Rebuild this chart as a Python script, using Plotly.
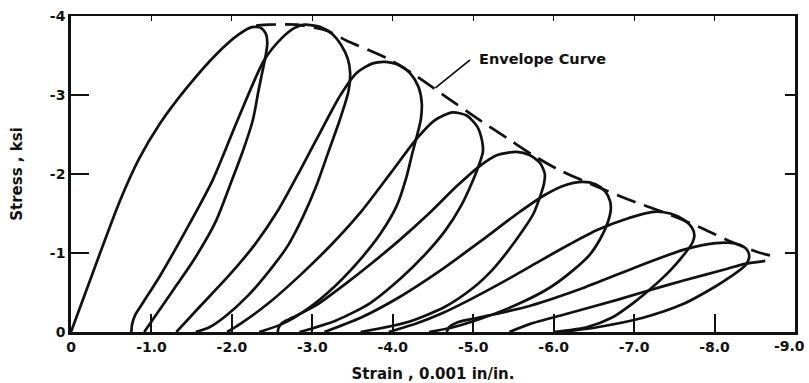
import plotly.graph_objects as go

# ---- data (strain in 0.001 in/in, stress in ksi) ----
loop1_x = [0, -0.30, -0.60, -0.85, -1.10, -1.43, -1.81, -2.09, -2.25, -2.36, -2.42, -2.44, -2.42,
           -2.38, -2.33, -2.26, -2.14, -2.00, -1.80, -1.55, -1.25, -0.91]
loop1_y = [0, -0.83, -1.64, -2.20, -2.63, -3.08, -3.52, -3.77, -3.86, -3.85, -3.78, -3.65, -3.50,
           -3.30, -3.05, -2.68, -2.30, -1.92, -1.40, -0.95, -0.50, 0]

loop2_x = [-0.75, -0.76, -0.80, -0.90, -1.10, -1.43, -1.76, -2.07, -2.40, -2.62, -2.78, -2.90, -3.10,
           -3.25, -3.36, -3.44, -3.47, -3.45, -3.34, -3.20, -3.05, -2.88, -2.70, -2.47, -2.20,
           -1.92, -1.72, -1.55]
loop2_y = [0, -0.10, -0.22, -0.38, -0.70, -1.29, -1.92, -2.68, -3.44, -3.72, -3.85, -3.89, -3.86,
           -3.77, -3.63, -3.46, -3.28, -3.05, -2.68, -2.28, -1.85, -1.45, -1.10, -0.78, -0.46,
           -0.20, -0.06, 0]

loop3_x = [-1.31, -1.60, -1.95, -2.28, -2.58, -2.85, -3.11, -3.35, -3.55, -3.75, -3.90, -4.08,
           -4.22, -4.32, -4.36, -4.35, -4.31, -4.24, -4.17, -4.05, -3.85, -3.58, -3.28, -2.95,
           -2.62, -2.34]
loop3_y = [0, -0.32, -0.70, -1.10, -1.55, -2.05, -2.55, -3.00, -3.28, -3.40, -3.42, -3.38,
           -3.27, -3.10, -2.90, -2.70, -2.52, -2.25, -1.96, -1.60, -1.25, -0.90, -0.58, -0.30,
           -0.10, 0]

loop4_x = [-1.94, -2.10, -2.45, -2.85, -3.25, -3.62, -3.98, -4.30, -4.52, -4.74, -4.92, -5.05,
           -5.11, -5.12, -5.08, -4.98, -4.85, -4.65, -4.40, -4.10, -3.71, -3.28, -2.84]
loop4_y = [0, -0.10, -0.36, -0.72, -1.12, -1.54, -2.02, -2.45, -2.68, -2.78, -2.74, -2.60,
           -2.42, -2.28, -2.14, -1.88, -1.60, -1.28, -0.98, -0.68, -0.36, -0.14, 0]

loop5_x = [-2.57, -2.58, -2.63, -2.75, -3.05, -3.40, -3.75, -4.08, -4.45, -4.80, -5.08, -5.30,
           -5.54, -5.70, -5.83, -5.89, -5.88, -5.83, -5.75, -5.62, -5.45, -5.25, -5.00, -4.65,
           -4.20, -3.60]
loop5_y = [0, -0.05, -0.12, -0.18, -0.34, -0.60, -0.88, -1.16, -1.50, -1.85, -2.10, -2.24,
           -2.28, -2.24, -2.14, -2.00, -1.88, -1.71, -1.50, -1.29, -1.05, -0.80, -0.56, -0.32,
           -0.13, 0]

loop6_x = [-3.15, -3.60, -4.08, -4.58, -5.08, -5.55, -5.90, -6.15, -6.36, -6.52, -6.64, -6.70,
           -6.71, -6.67, -6.58, -6.45, -6.24, -5.95, -5.55, -5.10, -4.75, -4.45]
loop6_y = [0, -0.18, -0.44, -0.77, -1.14, -1.50, -1.74, -1.86, -1.90, -1.87, -1.78, -1.66,
           -1.55, -1.38, -1.18, -0.98, -0.78, -0.56, -0.35, -0.17, -0.06, 0]

loop7_x = [-3.95, -4.30, -4.62, -4.96, -5.40, -5.83, -6.20, -6.54, -6.90, -7.24, -7.45, -7.62,
           -7.72, -7.75, -7.72, -7.62, -7.45, -7.22, -6.98, -6.72, -6.41, -6.00]
loop7_y = [0, -0.11, -0.24, -0.41, -0.65, -0.90, -1.11, -1.29, -1.43, -1.52, -1.50, -1.42,
           -1.32, -1.22, -1.12, -0.98, -0.78, -0.56, -0.36, -0.18, -0.06, 0]

loop8_x = [-4.67, -4.70, -4.80, -4.96, -5.20, -5.70, -6.40, -7.07, -7.61, -7.90, -8.16, -8.32,
           -8.41, -8.43, -8.38, -8.20, -8.00, -7.60, -7.11, -6.54, -6.10]
loop8_y = [0, -0.06, -0.12, -0.16, -0.21, -0.33, -0.57, -0.84, -1.04, -1.11, -1.13, -1.10,
           -1.03, -0.94, -0.84, -0.70, -0.57, -0.35, -0.18, -0.06, 0]

loop9_x = [-5.45, -5.70, -6.20, -6.80, -7.40, -7.90, -8.16, -8.36, -8.63]
loop9_y = [0, -0.10, -0.24, -0.41, -0.59, -0.73, -0.80, -0.86, -0.90]

envelope_x = [-2.30, -2.47, -2.81, -3.19, -3.44, -3.70, -3.92, -4.28, -4.67, -5.04, -5.47, -5.74,
              -6.05, -6.49, -6.92, -7.38, -7.81, -8.19, -8.54, -8.69]
envelope_y = [-3.88, -3.89, -3.89, -3.81, -3.68, -3.57, -3.47, -3.25, -2.97, -2.71, -2.42, -2.24,
              -2.06, -1.86, -1.68, -1.51, -1.33, -1.15, -1.01, -0.97]

x_ticks = [0, -1, -2, -3, -4, -5, -6, -7, -8, -9]
x_ticktext = ["0", "-1.0", "-2.0", "-3.0", "-4.0", "-5.0", "-6.0", "-7.0", "-8.0", ""]
x_last_tick = -9
x_last_label = "-9.0"
y_ticks = [0, -1, -2, -3, -4]
y_ticktext = ["0", "-1", "-2", "-3", "-4"]

label_point = (-4.53, -3.09)
label_tail = (-4.98, -3.46)

INK = "#111111"
FONT = "DejaVu Sans"

fig = go.Figure()
loops = [(loop1_x, loop1_y), (loop2_x, loop2_y), (loop3_x, loop3_y), (loop4_x, loop4_y),
         (loop5_x, loop5_y), (loop6_x, loop6_y), (loop7_x, loop7_y), (loop8_x, loop8_y),
         (loop9_x, loop9_y)]
for lx, ly in loops:
    fig.add_trace(go.Scatter(x=lx, y=ly, mode="lines",
                             line=dict(color=INK, width=2.7, shape="spline", smoothing=0.7),
                             hoverinfo="skip", showlegend=False))

fig.add_trace(go.Scatter(x=envelope_x, y=envelope_y, mode="lines", xaxis="x2", yaxis="y2",
                         line=dict(color=INK, width=2.7, dash="20px,9px", shape="spline", smoothing=0.7),
                         hoverinfo="skip", showlegend=False))

fig.add_annotation(x=label_tail[0], y=label_tail[1], xref="x", yref="y", text="Envelope Curve",
                   showarrow=False, xanchor="left", yanchor="middle", xshift=5,
                   font=dict(family=FONT, size=14.5, color=INK, weight="bold"))
fig.add_annotation(x=label_point[0], y=label_point[1], ax=label_tail[0], ay=label_tail[1],
                   xref="x", yref="y", axref="x", ayref="y", text="", showarrow=True,
                   arrowhead=0, arrowwidth=1.8, arrowcolor=INK)

tickfont = dict(family=FONT, size=14, color=INK, weight="bold")
titlefont = dict(family=FONT, size=15, color=INK, weight="bold")

# last x tick label sits flush against the right edge, as in the reference
fig.add_annotation(x=x_last_tick, y=0, xref="x", yref="y", text=x_last_label, showarrow=False,
                   xanchor="right", yanchor="middle", xshift=12, yshift=-14, font=tickfont)

fig.update_layout(
    width=809, height=383,
    margin=dict(l=71, r=14, t=16, b=51, autoexpand=False),
    paper_bgcolor="white", plot_bgcolor="white",
    xaxis=dict(range=[0, -9], tickvals=x_ticks, ticktext=x_ticktext, ticks="inside",
               ticklen=18, tickwidth=1.6, tickcolor=INK, showline=True, linewidth=2.6,
               linecolor=INK, showgrid=False, zeroline=False, tickfont=tickfont,
               automargin=False, ticklabeloverflow="allow",
               title=dict(text="Strain , 0.001 in/in.", standoff=16, font=titlefont)),
    yaxis=dict(range=[0, -4], tickvals=y_ticks, ticktext=y_ticktext, ticks="inside",
               ticklen=18, tickwidth=1.6, tickcolor=INK, showline=True, linewidth=2.6,
               linecolor=INK, showgrid=False, zeroline=False, tickfont=tickfont,
               automargin=False, ticklabeloverflow="allow",
               title=dict(text="Stress , ksi", standoff=24, font=titlefont)),
    xaxis2=dict(range=[0, -9], overlaying="x", side="top", tickvals=x_ticks, ticks="inside",
                ticklen=5, tickwidth=1.4, tickcolor=INK, showline=True, linewidth=1.6,
                linecolor=INK, showticklabels=False, showgrid=False, zeroline=False,
                automargin=False),
    yaxis2=dict(range=[0, -4], overlaying="y", side="right", tickvals=y_ticks, ticks="inside",
                ticklen=10, tickwidth=1.6, tickcolor=INK, showline=True, linewidth=2.6,
                linecolor=INK, showticklabels=False, showgrid=False, zeroline=False,
                automargin=False),
)

fig.write_html("out.html")
